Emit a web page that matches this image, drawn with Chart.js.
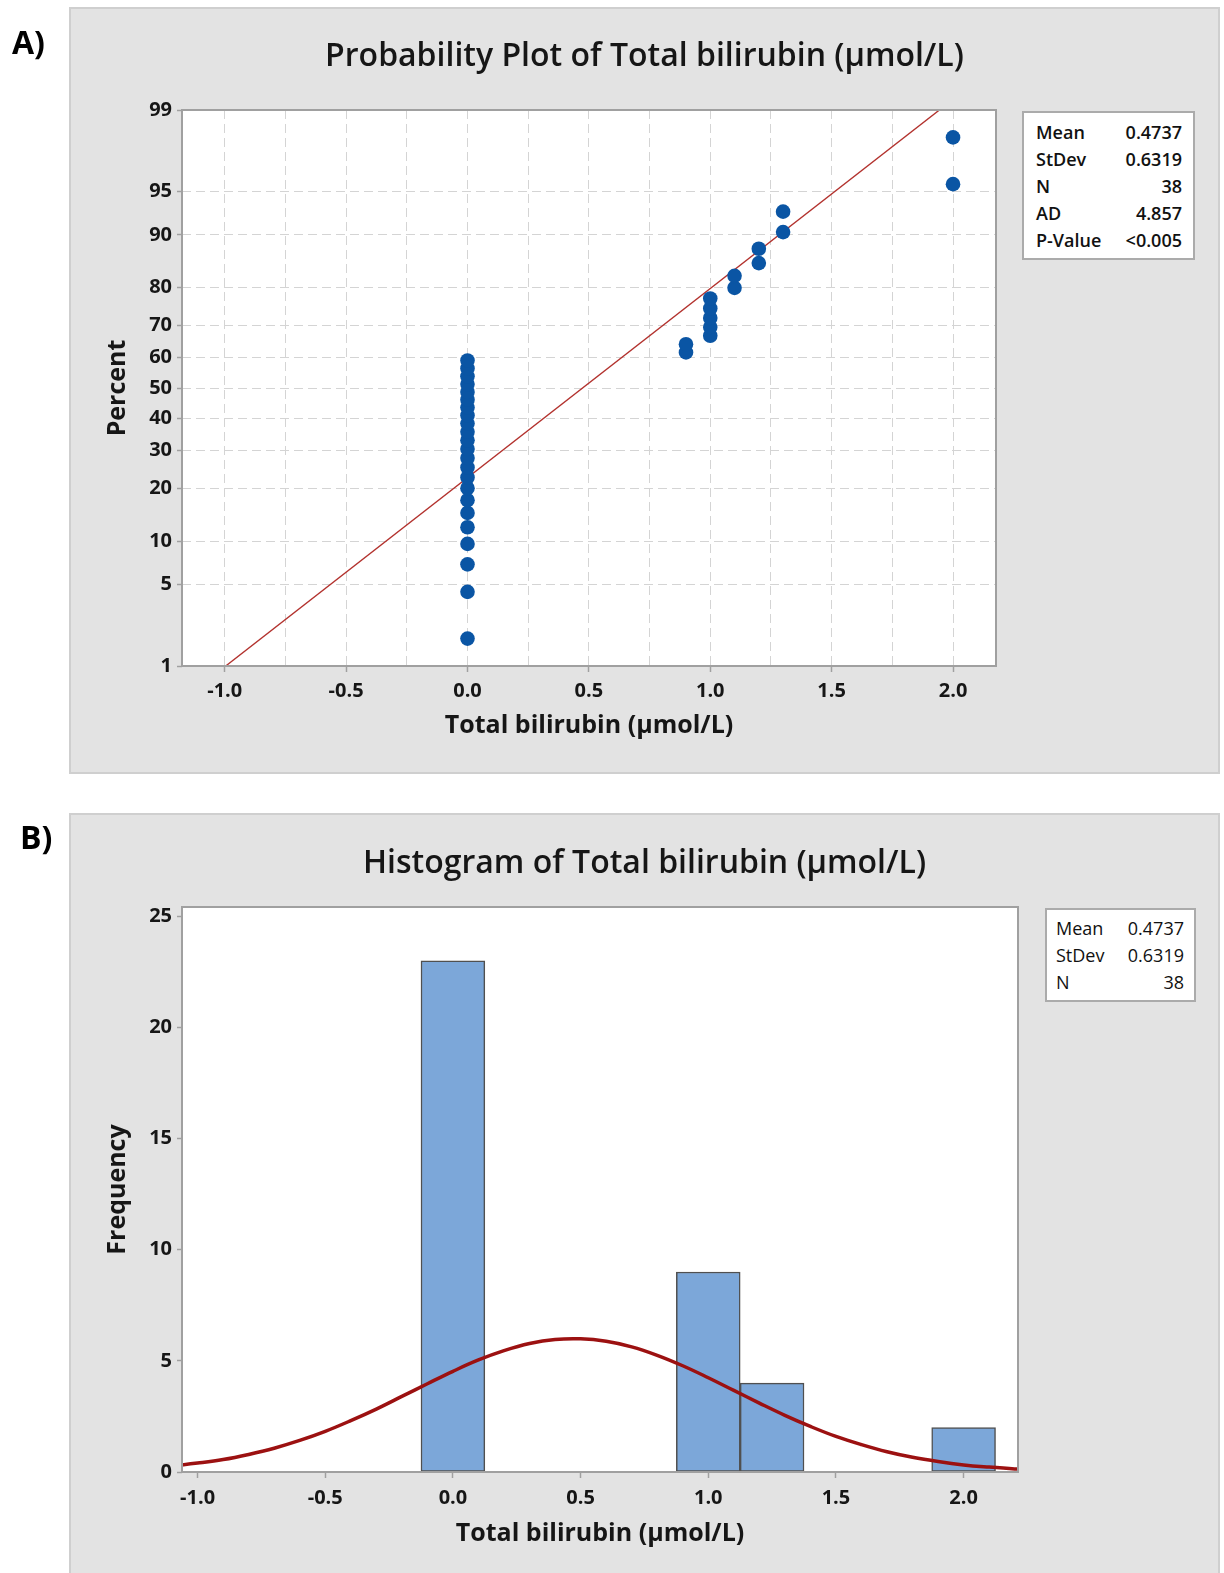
<!DOCTYPE html>
<html>
<head>
<meta charset="utf-8">
<script src="https://cdn.jsdelivr.net/npm/chart.js@4.4.1/dist/chart.umd.min.js"></script>
<style>
  html, body { margin: 0; padding: 0; background: #fff; }
  body { width: 1224px; height: 1573px; position: relative; overflow: hidden;
         font-family: 'Open Sans', 'Noto Sans', sans-serif; color: #1a1a1a; }
  .panel { position: absolute; background: #e3e3e3; border: 2px solid #cfcfcf; box-sizing: border-box; }
  #panelA { left: 69px; top: 7px; width: 1151px; height: 767px; }
  #panelB { left: 69px; top: 813px; width: 1151px; height: 775px; }
  canvas { position: absolute; left: 0; }
  #chartA { top: 0; }
  #chartB { top: 780px; }
  .tag { position: absolute; font-weight: 700; font-size: 32px; line-height: 32px; color: #000; }
  .stats { position: absolute; background: #fff; border: 2px solid #ababab; box-sizing: border-box; font-size: 18px; color: #111; }
  #statsA { font-weight: 600; }
  .row { position: absolute; display: flex; justify-content: space-between; height: 24px; line-height: 24px; }
</style>
</head>
<body>
<div class="panel" id="panelA"></div>
<div class="panel" id="panelB"></div>
<canvas id="chartA" width="1224" height="780"></canvas>
<canvas id="chartB" width="1224" height="793"></canvas>
<div class="tag" style="left:12px; top:26px;">A)</div>
<div class="tag" style="left:20px; top:821px;">B)</div>
<div class="stats" id="statsA" style="left:1022px; top:111px; width:173px; height:149px;"></div>
<div class="stats" id="statsB" style="left:1045px; top:908px; width:151px; height:94px;"></div>

<script>
// ---- panel A: probability plot ----
const probX = [0, 0, 0, 0, 0, 0, 0, 0, 0, 0, 0, 0, 0, 0, 0, 0, 0, 0, 0, 0, 0, 0, 0,
               0.9, 0.9, 1.0, 1.0, 1.0, 1.0, 1.0, 1.1, 1.1, 1.2, 1.2, 1.3, 1.3, 2.0, 2.0];
const probPct = [1.8, 4.4, 7.0, 9.6, 12.2, 14.8, 17.4, 20.1, 22.7, 25.3, 27.9, 30.5, 33.1,
                 35.7, 38.3, 40.9, 43.5, 46.1, 48.7, 51.3, 53.9, 56.5, 59.1,
                 61.7, 64.3, 66.9, 69.5, 72.1, 74.7, 77.3, 79.9, 82.6, 85.2, 87.8, 90.4, 93.0, 95.6, 98.2];
const fitX = [-0.996, 1.944];
const fitPct = [1, 99];
const pctTicks = [1, 5, 10, 20, 30, 40, 50, 60, 70, 80, 90, 95, 99];
const xTicksA = [-1, -0.75, -0.5, -0.25, 0, 0.25, 0.5, 0.75, 1, 1.25, 1.5, 1.75, 2];
const statsA = [["Mean", "0.4737"], ["StDev", "0.6319"], ["N", "38"], ["AD", "4.857"], ["P-Value", "<0.005"]];

// ---- panel B: histogram ----
const binMids = [0, 0.25, 0.5, 0.75, 1.0, 1.25, 1.5, 1.75, 2.0];
const binCounts = [23, 0, 0, 0, 9, 4, 0, 0, 2];
const curveX = [-1.1, -1.0, -0.9, -0.8, -0.7, -0.6, -0.5, -0.4, -0.3, -0.2, -0.1, 0.0, 0.1, 0.2, 0.3, 0.4, 0.5,
                0.6, 0.7, 0.8, 0.9, 1.0, 1.1, 1.2, 1.3, 1.4, 1.5, 1.6, 1.7, 1.8, 1.9, 2.0, 2.1, 2.2, 2.3];
const curveY = [0.27, 0.40, 0.56, 0.79, 1.07, 1.42, 1.83, 2.31, 2.83, 3.40, 3.97, 4.53, 5.04, 5.46, 5.78, 5.96, 5.99,
                5.88, 5.63, 5.25, 4.78, 4.24, 3.67, 3.10, 2.55, 2.05, 1.60, 1.23, 0.91, 0.66, 0.47, 0.32, 0.22, 0.14, 0.09];
const freqTicks = [0, 5, 10, 15, 20, 25];
const xTicksB = [-1.0, -0.5, 0, 0.5, 1.0, 1.5, 2.0];
const statsB = [["Mean", "0.4737"], ["StDev", "0.6319"], ["N", "38"]];

const TEXT = '#161616';
const AXIS = '#a0a0a0';
const GRID = '#d4d4d4';

Chart.defaults.font.family = "'Open Sans', 'Noto Sans', sans-serif";
Chart.defaults.color = TEXT;

// inverse normal cdf (Acklam) for the probability axis
function probit(p) {
  const a = [-39.69683028665376, 220.9460984245205, -275.9285104469687, 138.3577518672690, -30.66479806614716, 2.506628277459239];
  const b = [-54.47609879822406, 161.5858368580409, -155.6989798598866, 66.80131188771972, -13.28068155288572];
  const c = [-0.007784894002430293, -0.3223964580411365, -2.400758277161838, -2.549732539343734, 4.374664141464968, 2.938163982698783];
  const d = [0.007784695709041462, 0.3224671290700398, 2.445134137142996, 3.754408661907416];
  const lo = 0.02425;
  let q, r;
  if (p < lo) {
    q = Math.sqrt(-2 * Math.log(p));
    return (((((c[0]*q + c[1])*q + c[2])*q + c[3])*q + c[4])*q + c[5]) / ((((d[0]*q + d[1])*q + d[2])*q + d[3])*q + 1);
  }
  if (p > 1 - lo) {
    q = Math.sqrt(-2 * Math.log(1 - p));
    return -(((((c[0]*q + c[1])*q + c[2])*q + c[3])*q + c[4])*q + c[5]) / ((((d[0]*q + d[1])*q + d[2])*q + d[3])*q + 1);
  }
  q = p - 0.5; r = q * q;
  return (((((a[0]*r + a[1])*r + a[2])*r + a[3])*r + a[4])*r + a[5])*q / (((((b[0]*r + b[1])*r + b[2])*r + b[3])*r + b[4])*r + 1);
}

class ProbitScale extends Chart.LinearScale {
  static id = 'probit';
  static defaults = {};
  determineDataLimits() {
    this.min = this.options.min;
    this.max = this.options.max;
  }
  buildTicks() {
    return pctTicks.map(v => ({ value: v }));
  }
  getPixelForValue(value) {
    const z0 = probit(this.min / 100), z1 = probit(this.max / 100);
    return this.getPixelForDecimal((probit(value / 100) - z0) / (z1 - z0));
  }
}
Chart.register(ProbitScale);

// white plot area + grey frame
const plotFrame = {
  id: 'plotFrame',
  beforeDraw(chart) {
    const { ctx, chartArea: a } = chart;
    ctx.save();
    ctx.fillStyle = '#fff';
    ctx.fillRect(a.left, a.top, a.right - a.left, a.bottom - a.top);
    ctx.restore();
  },
  afterDatasetsDraw(chart) {
    const { ctx, chartArea: a } = chart;
    ctx.save();
    ctx.strokeStyle = AXIS;
    ctx.lineWidth = 2;
    ctx.strokeRect(a.left, a.top, a.right - a.left, a.bottom - a.top);
    ctx.restore();
  }
};

const isHalf = v => Math.abs(v * 2 - Math.round(v * 2)) < 1e-6;

// spacer on the right so the title centres over the whole panel
const spacer = w => ({
  position: 'right', type: 'linear', display: true,
  grid: { display: false }, ticks: { display: false }, border: { display: false },
  afterFit: s => { s.width = w; }
});

const tickFont = { size: 20, weight: 'bold' };
const titleFont = { size: 32, weight: '600' };
const axisTitleFont = { size: 25, weight: 'bold' };

new Chart(document.getElementById('chartA'), {
  type: 'scatter',
  data: {
    datasets: [
      {
        type: 'line',
        data: fitX.map((x, i) => ({ x, y: fitPct[i] })),
        borderColor: '#b3322e', borderWidth: 1.4, pointRadius: 0,
        xAxisID: 'x', yAxisID: 'y', order: 1
      },
      {
        data: probX.map((x, i) => ({ x, y: probPct[i] })),
        backgroundColor: '#0a55a4', borderWidth: 0, pointRadius: 7.3,
        xAxisID: 'x', yAxisID: 'y', order: 0
      }
    ]
  },
  options: {
    responsive: false, animation: false, events: [],
    layout: { padding: { left: 69, right: 4, top: 0, bottom: 6 } },
    plugins: {
      legend: { display: false }, tooltip: { enabled: false },
      title: {
        display: true, text: 'Probability Plot of Total bilirubin (µmol/L)',
        font: titleFont, color: TEXT, padding: { top: 37.8, bottom: 33.8 }
      }
    },
    scales: {
      x: {
        type: 'linear', min: -1.176, max: 2.177,
        afterBuildTicks: s => { s.ticks = xTicksA.map(v => ({ value: v })); },
        afterFit: s => { s.height = 108; },
        ticks: { autoSkip: false, maxRotation: 0, padding: 7, font: tickFont,
                 callback: v => isHalf(v) ? v.toFixed(1) : '' },
        grid: { color: GRID, lineWidth: 1, tickLength: 6, tickWidth: 1.5,
                tickBorderDash: [], tickColor: ctx => (ctx.tick && isHalf(ctx.tick.value)) ? AXIS : 'rgba(0,0,0,0)' },
        border: { display: false, dash: [9, 5] },
        title: { display: true, text: 'Total bilirubin (µmol/L)', font: axisTitleFont,
                 color: TEXT, padding: { top: 0, bottom: 33 } }
      },
      y: {
        type: 'probit', min: 1, max: 99,
        afterFit: s => { s.width = 113; },
        ticks: { autoSkip: false, padding: 5, font: tickFont, callback: v => String(v) },
        grid: { color: GRID, lineWidth: 1, tickLength: 5, tickWidth: 1.5,
                tickBorderDash: [], tickColor: AXIS },
        border: { display: false, dash: [9, 5] },
        title: { display: true, text: 'Percent', font: axisTitleFont,
                 color: TEXT, padding: { top: 34, bottom: 0 } }
      },
      side: spacer(224)
    }
  },
  plugins: [plotFrame]
});

new Chart(document.getElementById('chartB'), {
  type: 'scatter',
  data: {
    datasets: [
      {
        type: 'line',
        data: curveX.map((x, i) => ({ x, y: curveY[i] })),
        borderColor: '#9c1111', borderWidth: 3.5, pointRadius: 0, tension: 0.4, clip: 0,
        xAxisID: 'x', yAxisID: 'y', order: 0
      },
      {
        type: 'bar',
        data: binMids.map((x, i) => ({ x, y: binCounts[i] })),
        backgroundColor: '#7ca7d9', borderColor: '#505050',
        borderWidth: ctx => (ctx.raw && ctx.raw.y > 0 ? 1.5 : 0),
        borderSkipped: false, barPercentage: 1, categoryPercentage: 1,
        xAxisID: 'x', yAxisID: 'y', order: 1
      }
    ]
  },
  options: {
    responsive: false, animation: false, events: [],
    layout: { padding: { left: 69, right: 4, top: 0, bottom: 0 } },
    plugins: {
      legend: { display: false }, tooltip: { enabled: false },
      title: {
        display: true, text: 'Histogram of Total bilirubin (µmol/L)',
        font: titleFont, color: TEXT, padding: { top: 64.8, bottom: 23.8 }
      }
    },
    scales: {
      x: {
        type: 'linear', min: -1.061, max: 2.213, offset: false,
        afterBuildTicks: s => { s.ticks = xTicksB.map(v => ({ value: v })); },
        afterFit: s => { s.height = 101; },
        ticks: { autoSkip: false, maxRotation: 0, padding: 8, font: tickFont, callback: v => v.toFixed(1) },
        grid: { drawOnChartArea: false, offset: false, tickLength: 6, tickWidth: 1.5, tickColor: AXIS },
        border: { display: false },
        title: { display: true, text: 'Total bilirubin (µmol/L)', font: axisTitleFont,
                 color: TEXT, padding: { top: 0, bottom: 24.5 } }
      },
      y: {
        type: 'linear', min: 0, max: 25.42,
        afterBuildTicks: s => { s.ticks = freqTicks.map(v => ({ value: v })); },
        afterFit: s => { s.width = 113; },
        ticks: { autoSkip: false, padding: 5, font: tickFont, callback: v => String(v) },
        grid: { drawOnChartArea: false, tickLength: 5, tickWidth: 1.5, tickColor: AXIS },
        border: { display: false },
        title: { display: true, text: 'Frequency', font: axisTitleFont,
                 color: TEXT, padding: { top: 34, bottom: 0 } }
      },
      side: spacer(202)
    }
  },
  plugins: [plotFrame]
});

// stats boxes
function fillStats(id, rows, tops, left, right) {
  const box = document.getElementById(id);
  rows.forEach((r, i) => {
    const row = document.createElement('div');
    row.className = 'row';
    row.style.top = tops[i] + 'px';
    row.style.left = left + 'px';
    row.style.right = right + 'px';
    const a = document.createElement('span'); a.textContent = r[0];
    const b = document.createElement('span'); b.textContent = r[1];
    row.appendChild(a); row.appendChild(b);
    box.appendChild(row);
  });
}
fillStats('statsA', statsA, [6.5, 33.5, 60.5, 87.5, 114.5], 12, 11);
fillStats('statsB', statsB, [6, 33, 60], 9, 10);
</script>
</body>
</html>
